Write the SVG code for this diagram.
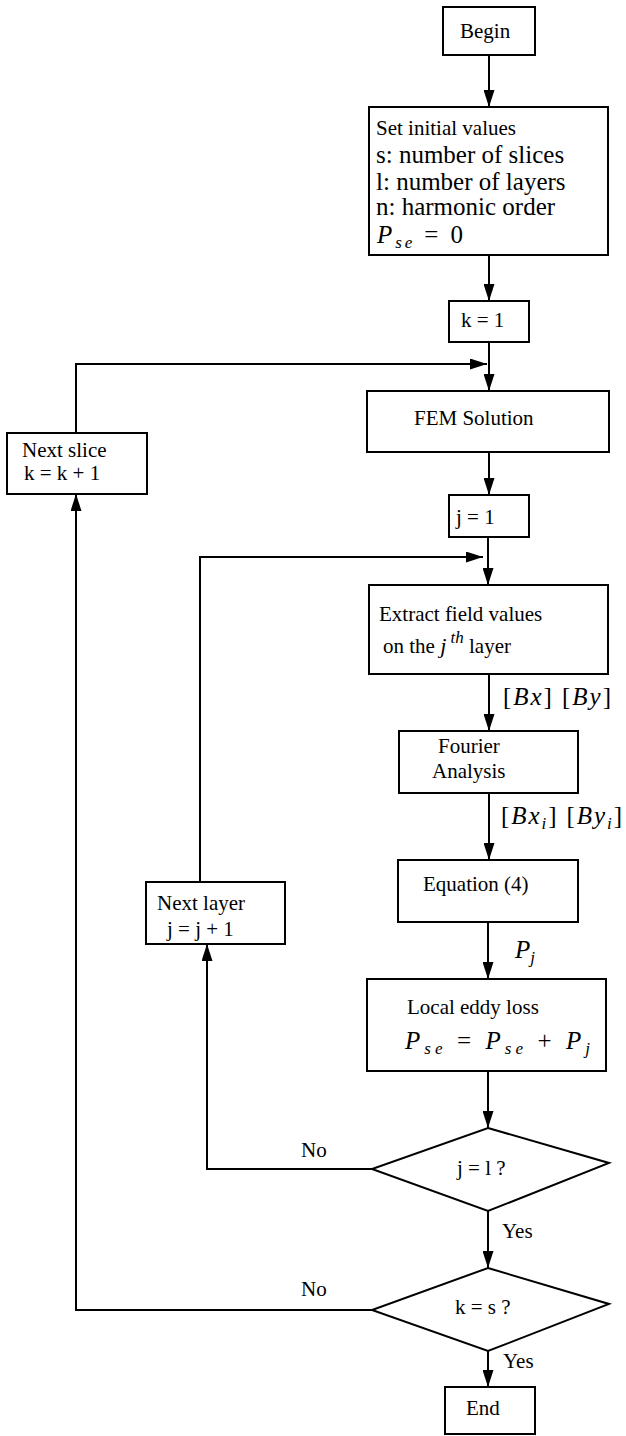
<svg xmlns="http://www.w3.org/2000/svg" width="626" height="1436" viewBox="0 0 626 1436">
<style>
.box{fill:#fff;stroke:#000;stroke-width:2}
.ln{fill:none;stroke:#000;stroke-width:2}
text{font-family:"Liberation Serif","Times New Roman",serif;fill:#000}
.t{font-size:21px}
.b{font-size:25px}
.m{font-family:"Liberation Serif",serif;font-style:italic;font-size:25px}
.r{font-style:normal}
</style>
<defs>
<marker id="ah" markerUnits="userSpaceOnUse" markerWidth="17" markerHeight="11" refX="17" refY="5.5" orient="auto">
<path d="M0,0 L17,5.5 L0,11 z" fill="#000"/>
</marker>
</defs>
<rect width="626" height="1436" fill="#fff"/>
<g id="connectors" class="ln" marker-end="url(#ah)">
<path d="M489,55 V107"/>
<path d="M489,255 V301"/>
<path d="M489,342 V391"/>
<path d="M76,433 V364 H487"/>
<path d="M489,452 V495"/>
<path d="M488,537 V585"/>
<path d="M200,882 V557 H483"/>
<path d="M489,674 V731"/>
<path d="M489,793 V860"/>
<path d="M488,922 V979"/>
<path d="M488,1071 V1128"/>
<path d="M372,1169 H207 V944"/>
<path d="M488,1211 V1268"/>
<path d="M372,1310 H76 V494"/>
<path d="M488,1351 V1387"/>
</g>
<g id="edge-labels">
<text x="503" y="705" class="m" textLength="108" lengthAdjust="spacing"><tspan class="r">[</tspan>Bx<tspan class="r">] [</tspan>By<tspan class="r">]</tspan></text>
<text x="501" y="824" class="m" textLength="121" lengthAdjust="spacing"><tspan class="r">[</tspan>Bx<tspan font-size="17" dy="5">i</tspan><tspan class="r" dy="-5">] [</tspan>By<tspan font-size="17" dy="5">i</tspan><tspan class="r" dy="-5">]</tspan></text>
<text x="515" y="958" class="m">P<tspan font-size="17" dy="5">j</tspan></text>
<text x="301" y="1157" class="t">No</text>
<text x="502" y="1238" class="t">Yes</text>
<text x="301" y="1296" class="t">No</text>
<text x="503" y="1368" class="t">Yes</text>
</g>
<g id="begin"><rect class="box" x="443" y="7" width="92" height="48"/><text x="460" y="38" class="t">Begin</text></g>
<g id="init"><rect class="box" x="369" y="107" width="239" height="148"/>
<text x="376" y="135" class="t">Set initial values</text>
<text x="376" y="163" class="b">s: number of slices</text>
<text x="376" y="190" class="b">l: number of layers</text>
<text x="376" y="215" class="b">n: harmonic order</text>
<text x="377" y="243" class="m" textLength="86" lengthAdjust="spacing">P<tspan font-size="17" dy="5">se</tspan><tspan class="r" dy="-5"> = 0</tspan></text>
</g>
<g id="k1"><rect class="box" x="449" y="301" width="80" height="41"/><text x="461" y="327" class="t">k = 1</text></g>
<g id="fem"><rect class="box" x="367" y="391" width="242" height="61"/><text x="414" y="425" class="t">FEM Solution</text></g>
<g id="next-slice"><rect class="box" x="7" y="433" width="140" height="61"/><text x="22" y="457" class="t">Next slice</text><text x="24" y="480" class="t">k = k + 1</text></g>
<g id="j1"><rect class="box" x="449" y="495" width="80" height="42"/><text x="456" y="524" class="t">j = 1</text></g>
<g id="extract"><rect class="box" x="369" y="585" width="239" height="89"/>
<text x="379" y="621" class="t">Extract field values</text>
<text x="383" y="653" class="t">on the <tspan font-style="italic" font-size="22">j</tspan><tspan font-style="italic" font-size="17" dy="-10"> th</tspan><tspan dy="10"> layer</tspan></text>
</g>
<g id="fourier"><rect class="box" x="399" y="731" width="179" height="62"/><text x="438" y="753" class="t">Fourier</text><text x="432" y="778" class="t">Analysis</text></g>
<g id="equation"><rect class="box" x="398" y="860" width="180" height="62"/><text x="423" y="891" class="t">Equation (4)</text></g>
<g id="next-layer"><rect class="box" x="146" y="882" width="139" height="62"/><text x="157" y="910" class="t">Next layer</text><text x="167" y="936" class="t">j = j + 1</text></g>
<g id="local"><rect class="box" x="367" y="979" width="239" height="92"/>
<text x="407" y="1014" class="t">Local eddy loss</text>
<text x="405" y="1049" class="m" textLength="185" lengthAdjust="spacing">P<tspan font-size="17" dy="5">se</tspan><tspan class="r" dy="-5"> = </tspan>P<tspan font-size="17" dy="5">se</tspan><tspan class="r" dy="-5"> + </tspan>P<tspan font-size="17" dy="5">j</tspan></text>
</g>
<g id="dec-j"><polygon class="box" points="488,1128 609,1163 488,1211 372,1169"/><text x="457" y="1175" class="t">j = l ?</text></g>
<g id="dec-k"><polygon class="box" points="488,1268 609,1304 488,1351 372,1310"/><text x="455" y="1314" class="t">k = s ?</text></g>
<g id="end"><rect class="box" x="445" y="1387" width="90" height="47"/><text x="466" y="1415" class="t">End</text></g>
</svg>
